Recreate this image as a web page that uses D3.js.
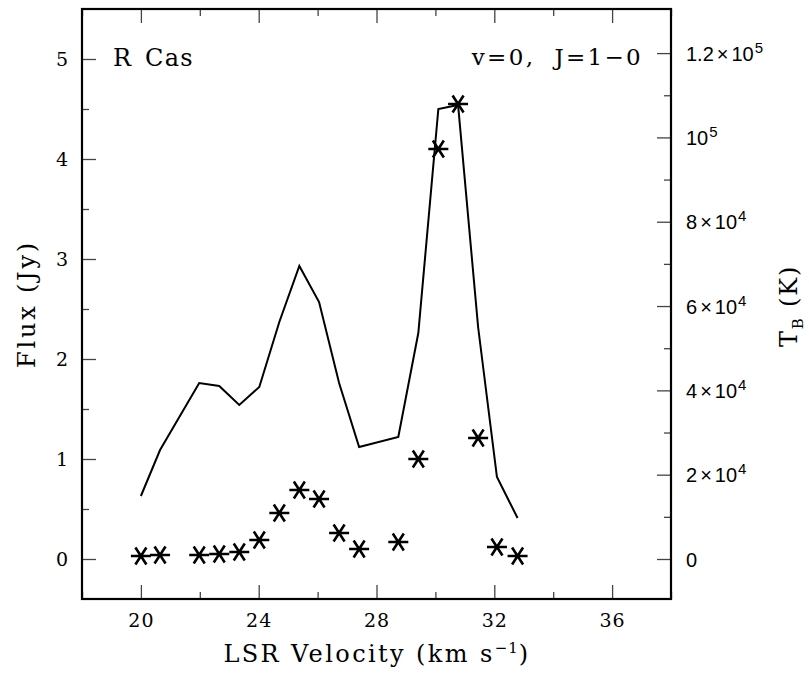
<!DOCTYPE html>
<html>
<head>
<meta charset="utf-8">
<script src="https://cdn.jsdelivr.net/npm/d3@7"></script>
<style>
  html, body { margin: 0; padding: 0; background: #fff; }
  svg { display: block; }
</style>
</head>
<body>
<svg id="chart" width="809" height="675"></svg>
<script>
// ---- data ----
const velocity = [20.0, 20.65, 21.98, 22.66, 23.34, 24.02, 24.70, 25.38, 26.05, 26.73, 27.41, 28.74, 29.42, 30.10, 30.77, 31.45, 32.09, 32.79];
const modelFlux = [0.63, 1.09, 1.76, 1.73, 1.54, 1.72, 2.37, 2.93, 2.57, 1.76, 1.12, 1.22, 2.26, 4.50, 4.54, 2.32, 0.82, 0.41];
const observedFlux = [0.03, 0.04, 0.04, 0.05, 0.07, 0.19, 0.46, 0.69, 0.60, 0.26, 0.10, 0.17, 1.00, 4.10, 4.55, 1.21, 0.12, 0.03];

const xMajorTicks = [20, 24, 28, 32, 36];
const xMinorTicks = [18, 22, 26, 30, 34, 38];
const yMajorTicks = [0, 1, 2, 3, 4, 5];
const yMinorTicks = [0.5, 1.5, 2.5, 3.5, 4.5];
const tMajorTicks = [0, 20000, 40000, 60000, 80000, 100000, 120000];
const tMinorTicks = [10000, 30000, 50000, 70000, 90000, 110000];
const tTickLabels = [["0", null], ["2×10", "4"], ["4×10", "4"], ["6×10", "4"], ["8×10", "4"], ["10", "5"], ["1.2×10", "5"]];

const xDomain = [18, 38];
const yDomain = [-0.4, 5.5];
const kelvinPerJy = 23720;

const sourceLabel = "R Cas";
const lineLabel = "v=0,  J=1−0";

// ---- layout ----
const svg = d3.select("#chart");
const L = 82, R = 671, T = 9, B = 599;
const serif = "'DejaVu Serif', serif";
const sans = "'Liberation Sans', Arial, sans-serif";

const x = d3.scaleLinear().domain(xDomain).range([L, R]);
const y = d3.scaleLinear().domain(yDomain).range([B, T]);
const yT = d3.scaleLinear().domain(yDomain.map(d => d * kelvinPerJy)).range([B, T]);

const MAJ = 14, MIN = 7;
function styleAxis(g) {
  g.select(".domain").remove();
  g.selectAll(".tick line").attr("stroke", "#444").attr("stroke-width", 1.3);
}

// bottom
svg.append("g").attr("transform", `translate(0,${B})`)
  .call(d3.axisBottom(x).tickValues(xMajorTicks).tickSize(-MAJ).tickPadding(15).tickFormat(d3.format("d")))
  .call(styleAxis)
  .call(g => g.selectAll("text").attr("font-family", serif).attr("font-size", 19).attr("letter-spacing", 1).attr("fill", "#000"));
svg.append("g").attr("transform", `translate(0,${B})`)
  .call(d3.axisBottom(x).tickValues(xMinorTicks).tickSize(-MIN).tickFormat(""))
  .call(styleAxis);
// top
svg.append("g").attr("transform", `translate(0,${T})`)
  .call(d3.axisTop(x).tickValues(xMajorTicks).tickSize(-MAJ).tickFormat(""))
  .call(styleAxis);
svg.append("g").attr("transform", `translate(0,${T})`)
  .call(d3.axisTop(x).tickValues(xMinorTicks).tickSize(-MIN).tickFormat(""))
  .call(styleAxis);
// left
svg.append("g").attr("transform", `translate(${L},0)`)
  .call(d3.axisLeft(y).tickValues(yMajorTicks).tickSize(-MAJ).tickPadding(14).tickFormat(d3.format("d")))
  .call(styleAxis)
  .call(g => g.selectAll("text").attr("font-family", serif).attr("font-size", 19).attr("fill", "#000"));
svg.append("g").attr("transform", `translate(${L},0)`)
  .call(d3.axisLeft(y).tickValues(yMinorTicks).tickSize(-MIN).tickFormat(""))
  .call(styleAxis);
// right
const rightAxis = svg.append("g").attr("transform", `translate(${R},0)`)
  .call(d3.axisRight(yT).tickValues(tMajorTicks).tickSize(-MAJ).tickPadding(15).tickFormat(""))
  .call(styleAxis);
rightAxis.selectAll(".tick").each(function(d, i) {
  const lab = tTickLabels[i];
  const t = d3.select(this).append("text")
    .attr("x", 15).attr("dy", "0.36em")
    .attr("font-family", sans).attr("font-size", 20).attr("fill", "#000")
    .attr("text-anchor", "start");
  const parts = lab[0].split("×");
  if (parts.length === 2) {
    t.append("tspan").text(parts[0]);
    t.append("tspan").attr("dx", 3).text("×");
    t.append("tspan").attr("dx", 3).text(parts[1]);
  } else {
    t.append("tspan").text(lab[0]);
  }
  if (lab[1]) t.append("tspan").attr("dx", 1).attr("dy", -8).attr("font-size", 15).text(lab[1]);
});
svg.append("g").attr("transform", `translate(${R},0)`)
  .call(d3.axisRight(yT).tickValues(tMinorTicks).tickSize(-MIN).tickFormat(""))
  .call(styleAxis);

// frame
svg.append("rect").attr("x", L).attr("y", T).attr("width", R - L).attr("height", B - T)
  .attr("fill", "none").attr("stroke", "#000").attr("stroke-width", 2.2);

// model line
const pts = velocity.map((v, i) => [v, modelFlux[i]]);
svg.append("path").datum(pts)
  .attr("d", d3.line().x(d => x(d[0])).y(d => y(d[1])))
  .attr("fill", "none").attr("stroke", "#000").attr("stroke-width", 2).attr("stroke-linejoin", "miter");

// observed asterisks
const star = (() => {
  const p = d3.path();
  p.moveTo(-10, 0); p.lineTo(10, 0);
  p.moveTo(-5.5, -8.5); p.lineTo(5.5, 8.5);
  p.moveTo(-5.5, 8.5); p.lineTo(5.5, -8.5);
  return p.toString();
})();
svg.append("g").selectAll("path").data(velocity.map((v, i) => [v, observedFlux[i]]))
  .join("path")
  .attr("transform", d => `translate(${x(d[0])},${y(d[1])})`)
  .attr("d", star)
  .attr("fill", "none").attr("stroke", "#000").attr("stroke-width", 2.6);

// annotations
svg.append("text").attr("x", 113).attr("y", 66)
  .attr("font-family", serif).attr("font-size", 24).attr("letter-spacing", 1.2).attr("word-spacing", 4).text(sourceLabel);
svg.append("text").attr("x", 643).attr("y", 65).attr("text-anchor", "end")
  .attr("font-family", serif).attr("font-size", 23).attr("letter-spacing", 2.3)
  .style("white-space", "pre").text(lineLabel);

// axis titles
const xt = svg.append("text").attr("x", (221 + 533) / 2).attr("y", 662).attr("text-anchor", "middle")
  .attr("font-family", serif).attr("font-size", 24).attr("letter-spacing", 2.4);
xt.append("tspan").text("LSR Velocity (km s");
xt.append("tspan").attr("dy", -9).attr("font-size", 15).attr("letter-spacing", 1).text("−1");
xt.append("tspan").attr("dy", 9).text(")");

svg.append("text").attr("transform", `translate(35,${(T + B) / 2}) rotate(-90)`)
  .attr("text-anchor", "middle").attr("font-family", serif).attr("font-size", 24)
  .attr("letter-spacing", 2.8).text("Flux (Jy)");

const yt = svg.append("text").attr("transform", `translate(797,306) rotate(-90)`)
  .attr("text-anchor", "middle").attr("font-family", serif).attr("font-size", 24).attr("letter-spacing", 1.8);
yt.append("tspan").text("T");
yt.append("tspan").attr("dy", 6).attr("font-size", 15).text("B");
yt.append("tspan").attr("dy", -6).text(" (K)");
</script>
</body>
</html>
